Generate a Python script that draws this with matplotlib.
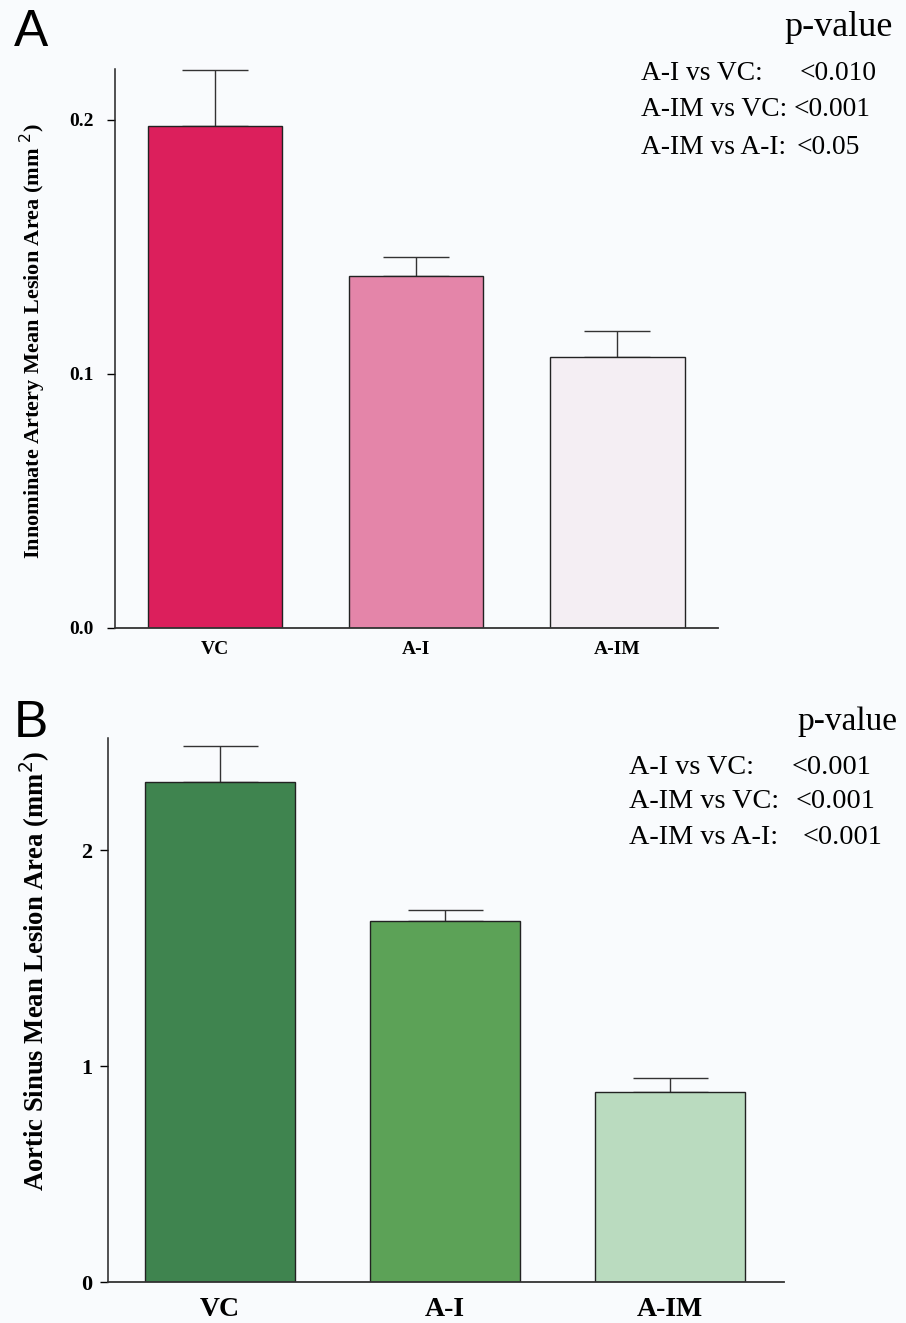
import matplotlib
matplotlib.use("Agg")
import matplotlib.pyplot as plt
import numpy as np

# data
groups = ["VC", "A-I", "A-IM"]

innominate_mean = [0.1976, 0.1386, 0.1067]
innominate_sem = [0.0221, 0.0075, 0.0102]
innominate_colors = ["#dc1f5c", "#e485a9", "#f4eef3"]
innominate_ticks = [0.0, 0.1, 0.2]
innominate_tick_labels = ["0.0", "0.1", "0.2"]
innominate_pairs = ["A-I vs VC:", "A-IM vs VC:", "A-IM vs A-I:"]
innominate_pvals = ["<0.010", "<0.001", "<0.05"]

sinus_mean = [2.315, 1.671, 0.880]
sinus_sem = [0.167, 0.051, 0.064]
sinus_colors = ["#3f844f", "#5ca257", "#badbbf"]
sinus_ticks = [0, 1, 2]
sinus_tick_labels = ["0", "1", "2"]
sinus_pairs = ["A-I vs VC:", "A-IM vs VC:", "A-IM vs A-I:"]
sinus_pvals = ["<0.001", "<0.001", "<0.001"]

BG = "#f9fbfd"
SERIF = "Liberation Serif"
W, H = 906, 1323


def fx(px):
    return px / W


def fy(py):
    return 1 - py / H


def bar_panel(ax, means, sems, colors, ticks, tick_labels, ylim, xlim,
              ylabel, ylab_size, ylab_xy, tick_size, tick_pad,
              xlab_size, xlab_pad, capsize):
    x = np.arange(len(groups))
    ax.set_facecolor(BG)
    ax.bar(x, means, width=0.667, color=colors, edgecolor="#222222",
           linewidth=1.0, zorder=2)
    ax.errorbar(x, means, yerr=[np.zeros(len(sems)), sems], fmt="none",
                ecolor="#333333", elinewidth=1.0, capsize=capsize,
                capthick=1.0, zorder=1)
    ax.set_xlim(*xlim)
    ax.set_ylim(*ylim)
    for s in ["top", "right"]:
        ax.spines[s].set_visible(False)
    ax.spines["left"].set_linewidth(1.1)
    ax.spines["bottom"].set_linewidth(1.3)
    ax.spines["left"].set_color("#222222")
    ax.spines["bottom"].set_color("#333333")
    ax.set_yticks(ticks)
    ax.set_yticklabels(tick_labels, fontfamily=SERIF, fontweight="bold",
                       fontsize=tick_size)
    ax.set_xticks(x)
    ax.set_xticklabels(groups, fontfamily=SERIF, fontweight="bold",
                       fontsize=xlab_size)
    ax.tick_params(axis="x", length=0, pad=xlab_pad)
    ax.tick_params(axis="y", length=5.5, width=1, direction="out",
                   pad=tick_pad)
    ax.set_ylabel(ylabel, fontfamily=SERIF, fontweight="bold",
                  fontsize=ylab_size)
    ax.yaxis.set_label_coords(*ylab_xy)


def pvalue_block(fig, head_xy, head_size, pairs, pvals, label_x, val_xs, ys,
                 size):
    fig.text(fx(head_xy[0]), fy(head_xy[1]), "p-value", ha="right",
             va="center", fontfamily=SERIF, fontsize=head_size)
    for pair, pv, vx, y in zip(pairs, pvals, val_xs, ys):
        fig.text(fx(label_x), fy(y), pair, ha="left", va="center",
                 fontfamily=SERIF, fontsize=size)
        fig.text(fx(vx), fy(y), pv, ha="left", va="center",
                 fontfamily=SERIF, fontsize=size)


fig = plt.figure(figsize=(W / 100, H / 100), dpi=100, facecolor=BG)

# panel A
axA = fig.add_axes([fx(115), fy(628), fx(718 - 115), (628 - 69) / H])
bar_panel(axA, innominate_mean, innominate_sem, innominate_colors,
          innominate_ticks, innominate_tick_labels, (0, 0.22), (-0.4975, 2.5),
          "Innominate Artery Mean Lesion Area (mm $^{2}$)", 16,
          (-0.111, 0.513), 14, 10, 14, 9, 24)
fig.text(fx(14), fy(33), "A", fontfamily="Liberation Sans", fontsize=37,
         ha="left", va="center")
pvalue_block(fig, (893, 28), 26, innominate_pairs, innominate_pvals, 641,
             [800, 794, 797], [73, 110, 148], 19.8)

# panel B
axB = fig.add_axes([fx(108), fy(1282), fx(784 - 108), (1282 - 738) / H])
bar_panel(axB, sinus_mean, sinus_sem, sinus_colors,
          sinus_ticks, sinus_tick_labels, (0, 2.52), (-0.498, 2.507),
          "Aortic Sinus Mean Lesion Area (mm$^{2}$)", 19.2,
          (-0.083, 0.572), 16, 6, 20, 11, 27)
fig.text(fx(14), fy(724), "B", fontfamily="Liberation Sans", fontsize=37,
         ha="left", va="center")
pvalue_block(fig, (897, 722), 24, sinus_pairs, sinus_pvals, 629,
             [792, 796, 803], [767, 802, 837], 20.3)

fig.savefig("out.png", dpi=100, facecolor=BG)
